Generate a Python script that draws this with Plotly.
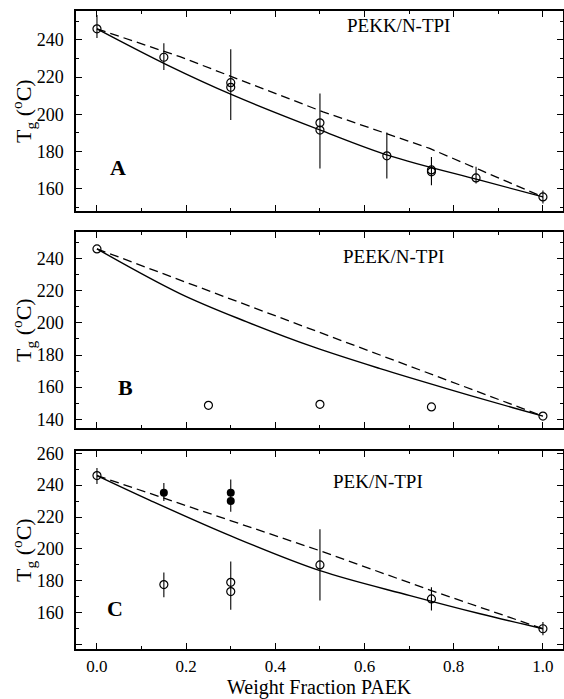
import plotly.graph_objects as go

# ---------------- data ----------------
# Panel A: PEKK/N-TPI
A_x = [0.0, 0.15, 0.3, 0.3, 0.5, 0.5, 0.65, 0.75, 0.75, 0.85, 1.0]
A_y = [246, 230.7, 217, 214.5, 195.4, 191.5, 177.6, 170, 169, 165.7, 155.5]
A_bar_x = [0.0, 0.15, 0.3, 0.5, 0.65, 0.75, 0.85, 1.0]
A_bar_lo = [241, 223.8, 196.9, 170.8, 165.4, 161.8, 162.7, 152]
A_bar_hi = [253.5, 238.2, 235, 211.2, 190.2, 177, 171.7, 159]
A_solid_x = [0.0, 0.158, 0.305, 0.507, 0.657, 0.859, 1.0]
A_solid_y = [246, 226.5, 210.3, 190.9, 177.6, 164.5, 155.5]
A_dash_x = [0.0, 0.186, 0.507, 0.746, 0.859, 1.0]
A_dash_y = [246, 231, 201.3, 181.6, 170, 155.5]

# Panel B: PEEK/N-TPI
B_x = [0.0, 0.25, 0.5, 0.75, 1.0]
B_y = [246, 148.7, 149.3, 147.7, 142]
B_solid_x = [0.0, 0.186, 0.336, 0.485, 0.635, 0.784, 0.933, 1.0]
B_solid_y = [246, 218.2, 200.6, 185, 171.5, 159.1, 147.2, 142]
B_dash_x = [0.0, 1.0]
B_dash_y = [246, 142]

# Panel C: PEK/N-TPI
C_open_x = [0.0, 0.15, 0.3, 0.3, 0.5, 0.75, 1.0]
C_open_y = [246, 177.7, 179.1, 173.3, 190, 168.7, 150]
C_fill_x = [0.15, 0.3, 0.3]
C_fill_y = [235.2, 235.2, 230]
C_bar_x = [0.0, 0.15, 0.15, 0.3, 0.3, 0.5, 0.75, 1.0]
C_bar_lo = [240.8, 169.7, 230, 161.9, 223.4, 167.7, 161.4, 145.9]
C_bar_hi = [250.8, 185.3, 241.4, 192.2, 243.5, 212.4, 176, 154.2]
C_solid_x = [0.0, 0.119, 0.3, 0.5, 0.702, 0.859, 1.0]
C_solid_y = [246, 230.5, 208.2, 186.4, 170.8, 159.4, 150]
C_dash_x = [0.0, 0.3, 0.5, 0.75, 1.0]
C_dash_y = [246, 217.6, 198.9, 173.9, 150]

x_ticks = [0.0, 0.2, 0.4, 0.6, 0.8, 1.0]
x_ticktext = ["0.0", "0.2", "0.4", "0.6", "0.8", "1.0"]
A_yticks = [160, 180, 200, 220, 240]
B_yticks = [140, 160, 180, 200, 220, 240]
C_yticks = [140, 160, 180, 200, 220, 240, 260]
C_yticktext = ["", "160", "180", "200", "220", "240", "260"]

panel_titles = ["PEKK/N-TPI", "PEEK/N-TPI", "PEK/N-TPI"]
panel_letters = ["A", "B", "C"]
x_title = "Weight Fraction PAEK"
y_title = "T<sub>g</sub> (<sup>o</sup>C)"

# ---------------- figure ----------------
FONT = "Liberation Serif, Times New Roman, serif"
fig = go.Figure()


def add_panel(n, open_x, open_y, sx, sy, dx, dy, bars=None, fill=None):
    xa = "x" if n == 1 else f"x{n}"
    ya = "y" if n == 1 else f"y{n}"
    fig.add_trace(go.Scatter(x=dx, y=dy, mode="lines", xaxis=xa, yaxis=ya,
                             line=dict(color="black", width=1.3, dash="9px,5px"),
                             showlegend=False, hoverinfo="skip"))
    fig.add_trace(go.Scatter(x=sx, y=sy, mode="lines", xaxis=xa, yaxis=ya,
                             line=dict(color="black", width=1.4, shape="spline", smoothing=1.0),
                             showlegend=False, hoverinfo="skip"))
    if bars is not None:
        bx, lo, hi = bars
        fig.add_trace(go.Scatter(
            x=bx, y=lo, mode="markers", xaxis=xa, yaxis=ya,
            marker=dict(size=1, color="rgba(0,0,0,0)"),
            error_y=dict(type="data", symmetric=False,
                         array=[h - l for h, l in zip(hi, lo)],
                         arrayminus=[0] * len(lo),
                         width=0, thickness=1.1, color="black"),
            showlegend=False, hoverinfo="skip"))
    fig.add_trace(go.Scatter(x=open_x, y=open_y, mode="markers", xaxis=xa, yaxis=ya,
                             marker=dict(symbol="circle-open", size=8, color="black",
                                         line=dict(width=1.2, color="black")),
                             showlegend=False))
    if fill is not None:
        fig.add_trace(go.Scatter(x=fill[0], y=fill[1], mode="markers", xaxis=xa, yaxis=ya,
                                 marker=dict(symbol="circle", size=8, color="black"),
                                 showlegend=False))


add_panel(1, A_x, A_y, A_solid_x, A_solid_y, A_dash_x, A_dash_y,
          bars=(A_bar_x, A_bar_lo, A_bar_hi))
add_panel(2, B_x, B_y, B_solid_x, B_solid_y, B_dash_x, B_dash_y)
add_panel(3, C_open_x, C_open_y, C_solid_x, C_solid_y, C_dash_x, C_dash_y,
          bars=(C_bar_x, C_bar_lo, C_bar_hi), fill=(C_fill_x, C_fill_y))

ML, MR, MT, MB = 76, 1, 11, 50
xrange = [-0.047, 1.045]
common_x = dict(range=xrange, tickvals=x_ticks, ticktext=x_ticktext,
                ticks="inside", ticklen=6, tickwidth=1, tickcolor="black",
                minor=dict(dtick=0.1, tick0=0, ticks="inside", ticklen=3, tickcolor="black"),
                showline=True, linecolor="black", linewidth=1.5, mirror="allticks",
                showgrid=False, zeroline=False, automargin=False, ticklabelstandoff=1,
                tickfont=dict(family=FONT, size=17, color="black"))
common_y = dict(ticks="inside", ticklen=6, tickwidth=1, tickcolor="black",
                minor=dict(dtick=10, tick0=0, ticks="inside", ticklen=3, tickcolor="black"),
                showline=True, linecolor="black", linewidth=1.5, mirror="allticks",
                showgrid=False, zeroline=False, ticklabelstandoff=7, automargin=False,
                tickfont=dict(family=FONT, size=18, color="black"))

doms = [[0.6865, 1.0], [0.3464, 0.6536], [0.0, 0.3103]]
fig.update_layout(
    width=564, height=699,
    margin=dict(l=ML, r=MR, t=MT, b=MB),
    paper_bgcolor="white", plot_bgcolor="white",
    font=dict(family=FONT, color="black"),
    xaxis=dict(common_x, anchor="y", showticklabels=False),
    xaxis2=dict(common_x, anchor="y2", matches="x", showticklabels=False),
    xaxis3=dict(common_x, anchor="y3", matches="x"),
    yaxis=dict(common_y, domain=doms[0], range=[147.9, 255.6], tickvals=A_yticks),
    yaxis2=dict(common_y, domain=doms[1], range=[134.6, 256.5], tickvals=B_yticks),
    yaxis3=dict(common_y, domain=doms[2], range=[137.3, 261.4],
                tickvals=C_yticks, ticktext=C_yticktext),
)

# axis titles as annotations
fig.add_annotation(x=0.5, y=0, xref="paper", yref="paper", yshift=-38,
                   text=x_title, showarrow=False, yanchor="middle", borderpad=0,
                   font=dict(family=FONT, size=20, color="black"))
for d in doms:
    fig.add_annotation(x=0, y=(d[0] + d[1]) / 2, xref="paper", yref="paper",
                       xshift=-53, text=y_title, textangle=-90, showarrow=False,
                       xanchor="center", yanchor="middle",
                       font=dict(family=FONT, size=22, color="black"))

title_pos = [(0.677, 248), (0.664, 241), (0.63, 242.6)]
letter_pos = [(0.047, 171.5), (0.063, 160), (0.04, 162.5)]
for i in range(3):
    xr = "x" if i == 0 else f"x{i+1}"
    yr = "y" if i == 0 else f"y{i+1}"
    fig.add_annotation(x=title_pos[i][0], y=title_pos[i][1], xref=xr, yref=yr,
                       text=panel_titles[i], showarrow=False,
                       font=dict(family=FONT, size=19, color="black"))
    fig.add_annotation(x=letter_pos[i][0], y=letter_pos[i][1], xref=xr, yref=yr,
                       text=f"<b>{panel_letters[i]}</b>", showarrow=False,
                       font=dict(family=FONT, size=22, color="black"))

fig.write_html(
    "out.html",
    config={"displayModeBar": False},
    post_script="document.body.style.margin='0px';document.body.style.overflow='hidden';",
)
